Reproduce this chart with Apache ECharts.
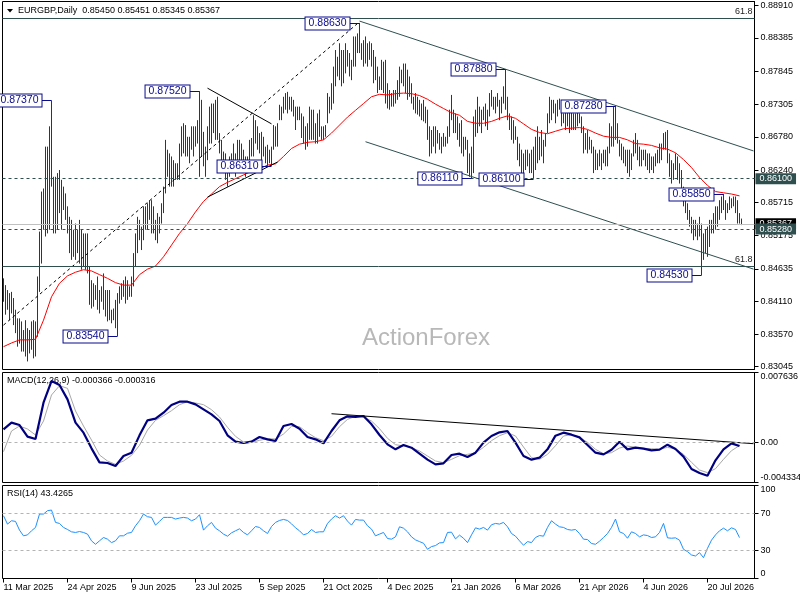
<!DOCTYPE html>
<html>
<head>
<meta charset="utf-8">
<title>EURGBP, Daily</title>
<script src="https://cdn.jsdelivr.net/npm/echarts@6/dist/echarts.min.js"></script>
<style>
html, body { margin: 0; padding: 0; background: #fff; }
#main { width: 800px; height: 600px; }
</style>
</head>
<body>
<div id="main"></div>
<script>
// ---- data ----
var dateLabels = ['11 Mar 2025', '24 Apr 2025', '9 Jun 2025', '23 Jul 2025', '5 Sep 2025', '21 Oct 2025',
    '4 Dec 2025', '21 Jan 2026', '6 Mar 2026', '21 Apr 2026', '4 Jun 2026', '20 Jul 2026'];
var priceTicks = [0.83045, 0.83570, 0.84110, 0.84635, 0.85175, 0.85715, 0.86240, 0.86780, 0.87305, 0.87845, 0.88385, 0.88910];
var macdTicks = [-0.004334, 0, 0.007636];
var rsiTicks = [0, 30, 70, 100];
var quote = [0.85450, 0.85451, 0.85345, 0.85367]; // open high low close of the last bar
var rsiLast = 43.4265;

// daily highs / lows, one per bar from 11 Mar 2025
var highs = [
    0.8448, 0.8437, 0.8429, 0.8424, 0.8426, 0.8416, 0.8397, 0.8383, 0.8383, 0.8378, // 0
    0.8364, 0.8380, 0.8367, 0.8364, 0.8378, 0.8380, 0.8378, 0.8451, 0.8524, 0.8589,
    0.8594, 0.8662, 0.8662, 0.8695, 0.8737, 0.8613, 0.8613, 0.8619, 0.8624, 0.8608,
    0.8597, 0.8586, 0.8565, 0.8548, 0.8543, 0.8527, 0.8537, 0.8527, 0.8543, 0.8527,
    0.8521, 0.8521, 0.8521, 0.8467, 0.8445, 0.8440, 0.8437, 0.8451, 0.8429, 0.8435,
    0.8456, 0.8429, 0.8429, 0.8429, 0.8397, 0.8399, 0.8413, 0.8424, 0.8435, 0.8440, // 50
    0.8445, 0.8451, 0.8445, 0.8435, 0.8451, 0.8489, 0.8521, 0.8548, 0.8543, 0.8532,
    0.8565, 0.8565, 0.8570, 0.8575, 0.8575, 0.8565, 0.8543, 0.8554, 0.8548, 0.8570,
    0.8597, 0.8673, 0.8657, 0.8651, 0.8646, 0.8640, 0.8635, 0.8635, 0.8667, 0.8695,
    0.8700, 0.8697, 0.8678, 0.8678, 0.8695, 0.8695, 0.8695, 0.8705, 0.8752, 0.8738,
    0.8686, 0.8662, 0.8695, 0.8727, 0.8732, 0.8732, 0.8738, 0.8743, 0.8684, 0.8673, // 100
    0.8654, 0.8651, 0.8640, 0.8646, 0.8651, 0.8667, 0.8651, 0.8673, 0.8673, 0.8667,
    0.8657, 0.8646, 0.8646, 0.8673, 0.8676, 0.8713, 0.8705, 0.8695, 0.8684, 0.8686,
    0.8678, 0.8662, 0.8665, 0.8657, 0.8662, 0.8697, 0.8695, 0.8700, 0.8730, 0.8727,
    0.8743, 0.8749, 0.8751, 0.8743, 0.8743, 0.8738, 0.8727, 0.8727, 0.8727, 0.8716,
    0.8711, 0.8695, 0.8700, 0.8727, 0.8722, 0.8722, 0.8700, 0.8716, 0.8722, 0.8695, // 150
    0.8695, 0.8697, 0.8749, 0.8743, 0.8765, 0.8792, 0.8819, 0.8808, 0.8830, 0.8819,
    0.8819, 0.8830, 0.8819, 0.8814, 0.8803, 0.8841, 0.8841, 0.8846, 0.8863, 0.8830,
    0.8835, 0.8841, 0.8830, 0.8833, 0.8830, 0.8819, 0.8808, 0.8792, 0.8776, 0.8803,
    0.8800, 0.8803, 0.8765, 0.8754, 0.8749, 0.8754, 0.8754, 0.8770, 0.8792, 0.8787,
    0.8797, 0.8797, 0.8787, 0.8776, 0.8765, 0.8743, 0.8749, 0.8743, 0.8738, 0.8732, // 200
    0.8738, 0.8727, 0.8722, 0.8695, 0.8689, 0.8695, 0.8695, 0.8689, 0.8684, 0.8678,
    0.8684, 0.8678, 0.8695, 0.8722, 0.8746, 0.8722, 0.8716, 0.8711, 0.8700, 0.8705,
    0.8678, 0.8678, 0.8673, 0.8651, 0.8662, 0.8711, 0.8722, 0.8743, 0.8727, 0.8722,
    0.8727, 0.8732, 0.8722, 0.8749, 0.8754, 0.8743, 0.8743, 0.8749, 0.8738, 0.8743,
    0.8760, 0.8788, 0.8743, 0.8716, 0.8711, 0.8705, 0.8695, 0.8678, 0.8667, 0.8657, // 250
    0.8651, 0.8657, 0.8657, 0.8651, 0.8657, 0.8662, 0.8678, 0.8695, 0.8678, 0.8689,
    0.8673, 0.8684, 0.8716, 0.8743, 0.8738, 0.8738, 0.8732, 0.8738, 0.8740, 0.8722,
    0.8716, 0.8732, 0.8727, 0.8722, 0.8722, 0.8716, 0.8716, 0.8727, 0.8716, 0.8711,
    0.8695, 0.8684, 0.8689, 0.8678, 0.8673, 0.8662, 0.8657, 0.8651, 0.8657, 0.8651,
    0.8657, 0.8657, 0.8662, 0.8700, 0.8695, 0.8727, 0.8728, 0.8700, 0.8673, 0.8667, // 300
    0.8662, 0.8657, 0.8657, 0.8657, 0.8651, 0.8673, 0.8684, 0.8673, 0.8662, 0.8657,
    0.8657, 0.8657, 0.8651, 0.8651, 0.8646, 0.8646, 0.8651, 0.8657, 0.8667, 0.8667,
    0.8684, 0.8686, 0.8689, 0.8651, 0.8640, 0.8635, 0.8651, 0.8646, 0.8635, 0.8624,
    0.8597, 0.8581, 0.8570, 0.8559, 0.8548, 0.8543, 0.8543, 0.8537, 0.8548, 0.8537,
    0.8521, 0.8527, 0.8532, 0.8543, 0.8543, 0.8554, 0.8565, 0.8565, 0.8575, 0.8581, // 350
    0.8585, 0.8575, 0.8570, 0.8581, 0.8578, 0.8581, 0.8581, 0.8575, 0.8554, 0.85451
];
var lows = [
    0.8410, 0.8389, 0.8397, 0.8380, 0.8391, 0.8372, 0.8359, 0.8337, 0.8342, 0.8329, // 0
    0.8329, 0.8321, 0.8313, 0.8326, 0.8332, 0.8318, 0.8321, 0.8353, 0.8426, 0.8472,
    0.8527, 0.8516, 0.8521, 0.8527, 0.8597, 0.8521, 0.8521, 0.8527, 0.8554, 0.8527,
    0.8559, 0.8543, 0.8521, 0.8489, 0.8478, 0.8483, 0.8478, 0.8489, 0.8472, 0.8462,
    0.8467, 0.8462, 0.8456, 0.8405, 0.8399, 0.8402, 0.8413, 0.8397, 0.8391, 0.8410,
    0.8397, 0.8386, 0.8378, 0.8380, 0.8375, 0.8380, 0.8367, 0.8354, 0.8407, 0.8413, // 50
    0.8418, 0.8407, 0.8413, 0.8418, 0.8418, 0.8435, 0.8467, 0.8489, 0.8510, 0.8494,
    0.8510, 0.8527, 0.8527, 0.8543, 0.8521, 0.8521, 0.8510, 0.8505, 0.8521, 0.8537,
    0.8554, 0.8586, 0.8613, 0.8597, 0.8597, 0.8597, 0.8608, 0.8608, 0.8608, 0.8646,
    0.8651, 0.8646, 0.8646, 0.8635, 0.8657, 0.8646, 0.8662, 0.8667, 0.8613, 0.8646,
    0.8630, 0.8613, 0.8640, 0.8667, 0.8667, 0.8684, 0.8673, 0.8673, 0.8651, 0.8624, // 100
    0.8619, 0.8608, 0.8597, 0.8613, 0.8619, 0.8624, 0.8613, 0.8630, 0.8635, 0.8640,
    0.8619, 0.8613, 0.8624, 0.8630, 0.8646, 0.8646, 0.8667, 0.8657, 0.8651, 0.8640,
    0.8646, 0.8635, 0.8630, 0.8635, 0.8631, 0.8657, 0.8662, 0.8662, 0.8705, 0.8705,
    0.8716, 0.8722, 0.8716, 0.8722, 0.8719, 0.8711, 0.8689, 0.8705, 0.8705, 0.8676,
    0.8667, 0.8657, 0.8662, 0.8673, 0.8673, 0.8673, 0.8667, 0.8667, 0.8678, 0.8673, // 150
    0.8673, 0.8678, 0.8700, 0.8716, 0.8722, 0.8732, 0.8760, 0.8776, 0.8770, 0.8760,
    0.8765, 0.8781, 0.8792, 0.8776, 0.8770, 0.8792, 0.8792, 0.8814, 0.8814, 0.8803,
    0.8792, 0.8797, 0.8792, 0.8803, 0.8792, 0.8765, 0.8770, 0.8749, 0.8754, 0.8754,
    0.8749, 0.8732, 0.8724, 0.8722, 0.8727, 0.8727, 0.8732, 0.8738, 0.8743, 0.8765,
    0.8760, 0.8749, 0.8738, 0.8743, 0.8732, 0.8722, 0.8716, 0.8714, 0.8711, 0.8705, // 200
    0.8703, 0.8700, 0.8673, 0.8646, 0.8651, 0.8662, 0.8651, 0.8667, 0.8657, 0.8651,
    0.8662, 0.8662, 0.8667, 0.8678, 0.8705, 0.8684, 0.8684, 0.8673, 0.8662, 0.8651,
    0.8646, 0.8657, 0.8619, 0.8613, 0.8611, 0.8619, 0.8678, 0.8684, 0.8695, 0.8684,
    0.8705, 0.8695, 0.8689, 0.8711, 0.8727, 0.8722, 0.8716, 0.8727, 0.8705, 0.8716,
    0.8732, 0.8722, 0.8705, 0.8689, 0.8673, 0.8667, 0.8673, 0.8640, 0.8630, 0.8619, // 250
    0.8613, 0.8624, 0.8630, 0.8619, 0.8619, 0.8610, 0.8624, 0.8635, 0.8640, 0.8646,
    0.8635, 0.8662, 0.8684, 0.8700, 0.8705, 0.8716, 0.8700, 0.8711, 0.8722, 0.8695,
    0.8700, 0.8689, 0.8695, 0.8684, 0.8689, 0.8689, 0.8689, 0.8695, 0.8700, 0.8684,
    0.8651, 0.8657, 0.8651, 0.8657, 0.8651, 0.8619, 0.8624, 0.8624, 0.8630, 0.8624,
    0.8635, 0.8630, 0.8630, 0.8651, 0.8662, 0.8662, 0.8673, 0.8667, 0.8646, 0.8640, // 300
    0.8635, 0.8630, 0.8619, 0.8613, 0.8624, 0.8646, 0.8651, 0.8640, 0.8630, 0.8630,
    0.8640, 0.8630, 0.8624, 0.8619, 0.8624, 0.8619, 0.8630, 0.8635, 0.8635, 0.8640,
    0.8657, 0.8657, 0.8635, 0.8613, 0.8602, 0.8608, 0.8624, 0.8608, 0.8602, 0.8575,
    0.8565, 0.8554, 0.8543, 0.8532, 0.8521, 0.8510, 0.8516, 0.8510, 0.8516, 0.8453,
    0.8478, 0.8489, 0.8483, 0.8499, 0.8521, 0.8521, 0.8527, 0.8532, 0.8543, 0.8554, // 350
    0.8559, 0.8543, 0.8554, 0.8559, 0.8562, 0.8565, 0.8554, 0.8537, 0.8537, 0.85345
];

// indicator readings: SMA / MACD every 4th bar, RSI every 2nd bar
var SMA_STEP = 4, MACD_STEP = 4, RSI_STEP = 2;
var sma = [
    0.8337, 0.8343, 0.8348, 0.8348, 0.8349, 0.8380, 0.8418, 0.8440, 0.8452, 0.8458,
    0.8462, 0.8460, 0.8454, 0.8448, 0.8441, 0.8437, 0.8437, 0.8454, 0.8463, 0.8468,
    0.8483, 0.8502, 0.8521, 0.8537, 0.8556, 0.8573, 0.8585, 0.8597, 0.8604, 0.8610,
    0.8616, 0.8622, 0.8626, 0.8632, 0.8634, 0.8646, 0.8659, 0.8666, 0.8669, 0.8670,
    0.8673, 0.8684, 0.8697, 0.8710, 0.8721, 0.8732, 0.8743, 0.8747, 0.8746, 0.8748,
    0.8749, 0.8748, 0.8745, 0.8739, 0.8731, 0.8724, 0.8717, 0.8713, 0.8703, 0.8700,
    0.8700, 0.8703, 0.8708, 0.8712, 0.8708, 0.8699, 0.8690, 0.8685, 0.8683, 0.8687,
    0.8691, 0.8692, 0.8693, 0.8690, 0.8684, 0.8679, 0.8677, 0.8677, 0.8673, 0.8667,
    0.8666, 0.8664, 0.8660, 0.8658, 0.8652, 0.8641, 0.8628, 0.8612, 0.8599, 0.8589,
    0.8587, 0.8585, 0.8582
];
var macd = [
    0.001451, 0.002176, 0.001922, 0.000653, 0.000399, 0.004352, 0.006710, 0.006275, 0.004715, 0.002176,
    0.001088, -0.000617, -0.002140, -0.002212, -0.002539, -0.001451, -0.001088, 0.000798, 0.002430, 0.002611,
    0.003264, 0.004099, 0.004461, 0.004461, 0.004171, 0.003627, 0.003083, 0.002358, 0.000798, 0.000109,
    -0.000036, 0.000109, 0.000617, 0.000363, 0.000181, 0.001814, 0.002031, 0.001523, 0.000617, 0.000363,
    -0.000073, 0.001269, 0.002430, 0.002865, 0.002793, 0.002902, 0.001995, 0.000834, -0.000181, -0.000725,
    -0.000254, -0.000544, -0.001197, -0.001850, -0.002358, -0.002249, -0.001342, -0.001197, -0.001560, -0.001088,
    0.000000, 0.000725, 0.001124, 0.001269, 0.000000, -0.001451, -0.001850, -0.001632, -0.000725, 0.000762,
    0.001088, 0.000870, 0.000580, -0.000254, -0.001088, -0.001269, -0.000762, 0.000109, -0.000725, -0.000544,
    -0.000653, -0.000834, -0.000762, -0.000218, -0.000689, -0.001523, -0.002865, -0.003301, -0.003591, -0.001922,
    -0.000725, -0.000073, -0.000366
];
var signal = [
    -0.000979, 0.001269, 0.001814, 0.001487, 0.000834, 0.002358, 0.005187, 0.006202, 0.005912, 0.003446,
    0.001814, 0.000290, -0.001342, -0.001995, -0.002358, -0.001995, -0.001378, -0.000290, 0.001378, 0.002430,
    0.002938, 0.003482, 0.004135, 0.004461, 0.004316, 0.004135, 0.003591, 0.002793, 0.001668, 0.000689,
    0.000073, 0.000036, 0.000254, 0.000435, 0.000399, 0.000943, 0.001777, 0.001741, 0.001088, 0.000544,
    0.000218, 0.000689, 0.001741, 0.002539, 0.002865, 0.002757, 0.002358, 0.001523, 0.000472, -0.000218,
    -0.000363, -0.000544, -0.000907, -0.001451, -0.001995, -0.002176, -0.001814, -0.001415, -0.001269, -0.001124,
    -0.000508, 0.000218, 0.000762, 0.001088, 0.000725, -0.000472, -0.001632, -0.001814, -0.001269, -0.000326,
    0.000725, 0.000870, 0.000580, 0.000036, -0.000725, -0.001197, -0.001088, -0.000580, -0.000363, -0.000508,
    -0.000617, -0.000653, -0.000725, -0.000508, -0.000689, -0.001269, -0.002140, -0.002974, -0.003264, -0.002829,
    -0.001814, -0.000870, -0.000316
];
var rsi = [
    67.5, 58.5, 62.1, 61.4, 52.0, 45.9, 46.9, 51.3, 54.9, 69.3,
    69.3, 72.9, 73.6, 60.3, 59.2, 54.9, 52.7, 50.2, 49.5, 50.5,
    49.5, 47.7, 40.5, 36.8, 40.5, 44.1, 42.3, 38.6, 40.5, 45.9,
    45.9, 48.7, 49.5, 56.7, 62.1, 69.3, 66.4, 65.7, 57.4, 61.4,
    65.7, 65.7, 65.7, 63.9, 65.0, 65.7, 65.0, 62.1, 63.9, 68.6,
    52.0, 56.7, 60.3, 54.1, 51.3, 47.7, 45.5, 49.1, 51.3, 53.4,
    49.5, 46.9, 51.3, 55.9, 54.9, 51.3, 48.4, 55.9, 60.3, 62.4,
    63.5, 62.4, 58.8, 54.5, 51.3, 46.9, 48.4, 52.7, 49.5, 50.2,
    50.2, 59.2, 63.9, 67.5, 65.0, 67.5, 61.7, 57.4, 63.5, 62.8,
    62.8, 56.7, 53.1, 45.9, 47.7, 49.5, 43.0, 42.3, 44.8, 55.6,
    54.1, 50.2, 44.8, 41.5, 39.7, 37.9, 31.4, 34.3, 35.4, 38.3,
    38.6, 49.5, 49.8, 42.6, 46.6, 43.3, 38.6, 46.9, 54.5, 53.1,
    54.9, 52.0, 57.8, 59.2, 58.5, 60.3, 55.6, 48.4, 45.5, 40.5,
    35.8, 39.7, 38.6, 44.1, 46.2, 45.5, 54.9, 62.1, 58.5, 55.6,
    54.9, 52.7, 52.0, 52.7, 48.4, 42.3, 41.9, 37.6, 36.8, 40.1,
    44.1, 48.4, 54.9, 63.9, 50.2, 48.4, 43.3, 50.2, 48.4, 44.8,
    46.9, 46.2, 44.1, 44.8, 49.5, 59.2, 43.7, 43.3, 43.7, 41.2,
    31.4, 28.9, 25.3, 24.2, 27.8, 22.4, 32.5, 41.2, 46.9, 51.3,
    54.1, 51.3, 54.5, 52.7, 44.0
];

// marked highs / lows: [bar, price]
var peakLabels = [[24, 0.87370], [98, 0.87520], [57, 0.83540], [134, 0.86310], [178, 0.88630],
    [251, 0.87880], [234, 0.86110], [265, 0.86100], [306, 0.87280], [360, 0.85850], [349, 0.84530]];
// drawn lines: [[bar, price], [bar, price]]
var rallyLine = [[0, 0.8372], [177, 0.8862]];
var triangleTop = [[102, 0.8757], [134, 0.8699]];
var triangleBottom = [[102, 0.8580], [137, 0.8637]];
var channelTop = [[178, 0.8866], [375, 0.8655]];
var channelBottom = [[181, 0.8670], [375, 0.8463]];
var macdTrend = [[164, 0.00315], [375, -0.00011]];
var fibLevels = [0.88705, 0.84680];
var supportLevels = [0.86100, 0.85280];

// ---- chart ----
var FONT = "'Liberation Sans', Arial, sans-serif";
var BAR_COLOR = '#1e3c4e';
var LABEL_COLOR = '#0a0a8c';
var SLATE = '#2f4f4f';
var SLOTS = 376; // bar slots across the window, the right part is empty shift space

var categories = [];
for (var i = 0; i < SLOTS; i++) {
    categories.push(i);
}

function stepped(values, step) { // put sampled readings on their bar
    return values.map(function (v, k) { return [k * step, v]; });
}

function renderBar(params, api) {
    var top = api.coord([api.value(0), api.value(2)]);
    var bottom = api.coord([api.value(0), api.value(1)]);
    var x = Math.round(top[0] - 0.5) + 0.5;
    return {
        type: 'line',
        shape: { x1: x, y1: top[1], x2: x, y2: bottom[1] },
        style: { stroke: BAR_COLOR, lineWidth: 1 }
    };
}

function renderPeak(params, api) {
    var pt = api.coord([api.value(0), api.value(1)]);
    var y = Math.round(pt[1]) + 0.5;
    var x = pt[0] - 10;
    return {
        type: 'group',
        children: [{
            type: 'line',
            shape: { x1: x, y1: y, x2: pt[0], y2: y },
            style: { stroke: LABEL_COLOR, lineWidth: 1 }
        }, {
            type: 'text',
            style: {
                text: api.value(1).toFixed(5),
                x: x, y: y,
                align: 'right', verticalAlign: 'middle',
                fill: LABEL_COLOR, fontSize: 10.5, fontFamily: FONT,
                backgroundColor: '#fff', borderColor: LABEL_COLOR, borderWidth: 1,
                padding: [1, 3, 0, 3]
            }
        }]
    };
}

function xAxisFor(gridIndex, withLabels) {
    var every = function (idx) { return idx % 32 === 0; };
    return {
        type: 'category', gridIndex: gridIndex, data: categories, boundaryGap: true,
        axisLine: { show: false },
        axisTick: { show: withLabels, interval: every, alignWithLabel: true, length: 4, lineStyle: { color: '#000' } },
        axisLabel: {
            show: withLabels, interval: every, align: 'left', margin: 5,
            fontSize: 9, fontFamily: FONT, color: '#000',
            formatter: function (v) { return dateLabels[Number(v) / 32] || ''; }
        },
        splitLine: { show: false }
    };
}

function yAxisFor(gridIndex, min, max, ticks, fmt, edgeAlign) {
    return {
        type: 'value', gridIndex: gridIndex, position: 'right', min: min, max: max, scale: true,
        axisLine: { show: true, lineStyle: { color: '#000' } },
        axisTick: { show: true, customValues: ticks, length: 4, lineStyle: { color: '#000' } },
        axisLabel: {
            customValues: ticks, formatter: fmt, margin: 6,
            fontSize: 9, fontFamily: FONT, color: '#000',
            verticalAlignMinLabel: edgeAlign ? 'bottom' : null,
            verticalAlignMaxLabel: edgeAlign ? 'top' : null
        },
        splitLine: { show: false }
    };
}

function segment(name, pts, gridIndex, color, dashed) {
    return {
        name: name, type: 'line', xAxisIndex: gridIndex, yAxisIndex: gridIndex,
        data: pts, showSymbol: false, symbol: 'none', silent: true, z: 4,
        lineStyle: { color: color, width: 1, type: dashed ? [3, 3] : 'solid' }
    };
}

function endBox(text, bg) {
    return {
        show: true, position: 'end', distance: 1, formatter: text,
        color: '#fff', backgroundColor: bg, padding: [1, 4, 1, 4],
        fontSize: 9, fontFamily: FONT
    };
}

var priceLevels = [];
fibLevels.forEach(function (v) {
    priceLevels.push({
        yAxis: v, lineStyle: { color: SLATE, width: 1, type: 'solid' },
        label: { show: true, position: 'insideEndTop', distance: 2, formatter: '61.8', color: '#222', fontSize: 9, fontFamily: FONT }
    });
});
priceLevels.push({ yAxis: supportLevels[0], lineStyle: { color: SLATE, width: 1, type: [3, 3] }, label: endBox(supportLevels[0].toFixed(5), SLATE) });
priceLevels.push({ yAxis: quote[3], lineStyle: { color: '#c0c0c0', width: 1, type: 'solid' }, label: endBox(quote[3].toFixed(5), '#000') });
priceLevels.push({ yAxis: supportLevels[1], lineStyle: { color: SLATE, width: 1, type: [3, 3] }, label: endBox(supportLevels[1].toFixed(5), SLATE) });

var chart = echarts.init(document.getElementById('main'));
var option = {
    animation: false,
    backgroundColor: '#fff',
    grid: [
        { left: 2.5, width: 752, top: 1.5, height: 368, show: true, borderColor: '#000', borderWidth: 1, outerBoundsMode: 'none' },
        { left: 2.5, width: 752, top: 372.5, height: 110, show: true, borderColor: '#000', borderWidth: 1, outerBoundsMode: 'none' },
        { left: 2.5, width: 752, top: 485.5, height: 93, show: true, borderColor: '#000', borderWidth: 1, outerBoundsMode: 'none' }
    ],
    xAxis: [xAxisFor(0, false), xAxisFor(1, false), xAxisFor(2, true)],
    yAxis: [
        yAxisFor(0, 0.82999, 0.88978, priceTicks, function (v) { return v.toFixed(5); }, false),
        yAxisFor(1, -0.004334, 0.007636, macdTicks, function (v) { return v === 0 ? '0.00' : v.toFixed(6); }, true),
        yAxisFor(2, 0, 100, rsiTicks, function (v) { return String(v); }, true)
    ],
    graphic: [
        { type: 'polygon', shape: { points: [[7, 9], [13, 9], [10, 12.5]] }, style: { fill: '#000' } },
        {
            type: 'text', x: 18, y: 11,
            style: {
                text: 'EURGBP,Daily  ' + quote.map(function (q) { return q.toFixed(5); }).join(' '),
                fill: '#000', fontSize: 9, fontFamily: FONT, verticalAlign: 'middle'
            }
        },
        {
            type: 'text', x: 362, y: 338, z: -1,
            style: { text: 'ActionForex', fill: '#b8b8b8', fontSize: 24, fontFamily: FONT, verticalAlign: 'middle' }
        },
        {
            type: 'text', x: 7, y: 381,
            style: {
                text: 'MACD(12,26,9) ' + macd[macd.length - 1].toFixed(6) + ' ' + signal[signal.length - 1].toFixed(6),
                fill: '#000', fontSize: 9, fontFamily: FONT, verticalAlign: 'middle'
            }
        },
        {
            type: 'text', x: 7, y: 494,
            style: { text: 'RSI(14) ' + rsiLast.toFixed(4), fill: '#000', fontSize: 9, fontFamily: FONT, verticalAlign: 'middle' }
        }
    ],
    series: [
        {
            name: 'bars', type: 'custom', xAxisIndex: 0, yAxisIndex: 0, silent: true, z: 2,
            renderItem: renderBar, encode: { x: 0, y: [1, 2] },
            data: highs.map(function (h, i) { return [i, lows[i], h]; })
        },
        {
            name: 'sma', type: 'line', xAxisIndex: 0, yAxisIndex: 0, silent: true, z: 3,
            data: stepped(sma, SMA_STEP), showSymbol: false, symbol: 'none',
            lineStyle: { color: '#ff0000', width: 1 },
            markLine: { silent: true, symbol: ['none', 'none'], precision: 6, animation: false, data: priceLevels }
        },
        segment('rally', rallyLine, 0, '#000', true),
        segment('triangleTop', triangleTop, 0, '#000', false),
        segment('triangleBottom', triangleBottom, 0, '#000', false),
        segment('channelTop', channelTop, 0, SLATE, false),
        segment('channelBottom', channelBottom, 0, SLATE, false),
        {
            name: 'peaks', type: 'custom', xAxisIndex: 0, yAxisIndex: 0, silent: true, z: 6,
            renderItem: renderPeak, encode: { x: 0, y: 1 }, data: peakLabels
        },
        {
            name: 'signal', type: 'line', xAxisIndex: 1, yAxisIndex: 1, silent: true,
            data: stepped(signal, MACD_STEP), showSymbol: false, symbol: 'none',
            lineStyle: { color: '#a8a8a8', width: 1 },
            markLine: {
                silent: true, symbol: ['none', 'none'], precision: 6, animation: false, label: { show: false },
                data: [{ yAxis: 0, lineStyle: { color: '#b4b4b4', width: 1, type: [3, 3] } }]
            }
        },
        {
            name: 'macd', type: 'line', xAxisIndex: 1, yAxisIndex: 1, silent: true, z: 3,
            data: stepped(macd, MACD_STEP), showSymbol: false, symbol: 'none',
            lineStyle: { color: '#000080', width: 2.2 }
        },
        segment('macdTrend', macdTrend, 1, '#000', false),
        {
            name: 'rsi', type: 'line', xAxisIndex: 2, yAxisIndex: 2, silent: true,
            data: stepped(rsi, RSI_STEP), showSymbol: false, symbol: 'none',
            lineStyle: { color: '#1e90ff', width: 1 },
            markLine: {
                silent: true, symbol: ['none', 'none'], animation: false, label: { show: false },
                data: [70, 30].map(function (v) {
                    return { yAxis: v, lineStyle: { color: '#b4b4b4', width: 1, type: [3, 3] } };
                })
            }
        }
    ]
};
chart.setOption(option);
</script>
</body>
</html>
